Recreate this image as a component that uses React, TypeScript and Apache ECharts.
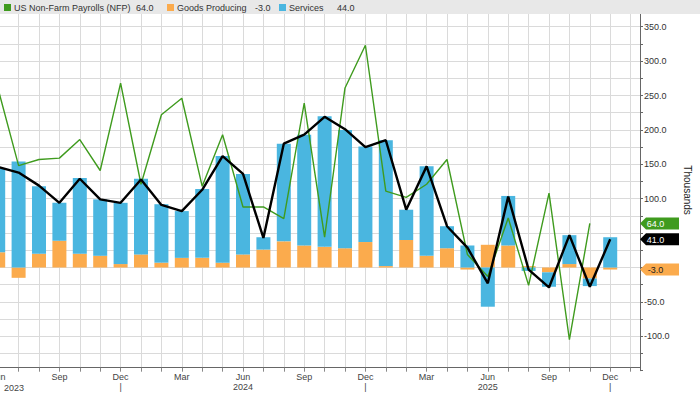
import React, { useEffect, useRef } from 'react';
import * as echarts from 'echarts';

// ---- data (thousands) ----
const months = [
  'Jun 2023', 'Jul 2023', 'Aug 2023', 'Sep 2023', 'Oct 2023', 'Nov 2023', 'Dec 2023',
  'Jan 2024', 'Feb 2024', 'Mar 2024', 'Apr 2024', 'May 2024', 'Jun 2024', 'Jul 2024',
  'Aug 2024', 'Sep 2024', 'Oct 2024', 'Nov 2024', 'Dec 2024', 'Jan 2025', 'Feb 2025',
  'Mar 2025', 'Apr 2025', 'May 2025', 'Jun 2025', 'Jul 2025', 'Aug 2025', 'Sep 2025',
  'Oct 2025', 'Nov 2025', 'Dec 2025',
];
const goodsProducing = [22, -15, 20, 39, 20, 17, 5, 19, 7, 14, 14, 7, 19, 26, 38, 32, 30, 28, 37, 2, 40, 17, 28, -3, 33, 32, 2, -7, 5, -16, -3];
const services = [122, 154, 98, 55, 110, 82, 89, 110, 85, 68, 100, 155, 117, 18, 142, 161, 190, 172, 139, 183, 44, 130, 32, 32, -57, 72, -5, -21, 42, -11, 44];
const privateTotal = [146, 138, 119, 94, 129, 99, 94, 128, 91, 82, 113, 162, 136, 43, 180, 193, 219, 201, 175, 185, 84, 147, 60, 29, -23, 103, -3, -29, 47, -28, 41];
const nfp = [259, 148, 157, 159, 186, 141, 268, 121, 222, 246, 118, 193, 88, 88, 71, 239, 44, 261, 323, 111, 102, 121, 157, 19, -13, 72, -26, 108, -105, 64];

const NFP_NAME = 'US Non-Farm Payrolls (NFP)';
const GOODS_NAME = 'Goods Producing';
const SERV_NAME = 'Services';

const BLUE = '#4ab6e0';
const ORANGE = '#fbab4d';
const GREEN = '#3f9b1e';
const BLACK = '#000000';
const GRID = '#dadada';
const FONT = '"Liberation Sans", Arial, sans-serif';
const X_MAX = 31.46;
const BAR_W = 14;

const pairs = (arr: number[]) => arr.map((v, i) => [i, v]);
const last = (arr: number[]) => arr[arr.length - 1];

// stacked segments (same-sign stacking: services sits on goods when both share a sign)
const goodsSegments = goodsProducing.map((g, i) => [i, 0, g]);
const servicesSegments = services.map((s, i) => {
  const g = goodsProducing[i];
  const base = Math.sign(g) === Math.sign(s) ? g : 0;
  return [i, base, base + s];
});

const barRenderer = (color: string) => (params: any, api: any) => {
  const i = api.value(0);
  const p0 = api.coord([i, api.value(1)]);
  const p1 = api.coord([i, api.value(2)]);
  const rect = echarts.graphic.clipRectByRect(
    { x: p0[0] - BAR_W / 2, y: Math.min(p0[1], p1[1]), width: BAR_W, height: Math.abs(p1[1] - p0[1]) },
    params.coordSys as any,
  );
  return rect ? { type: 'rect', shape: rect, style: { fill: color } } : null;
};

function tagItem(value: number, color: string, textColor: string) {
  return {
    coord: [X_MAX, value],
    value,
    itemStyle: { color },
    label: { color: textColor },
  };
}

export default function App() {
  const ref = useRef<HTMLDivElement>(null);
  useEffect(() => {
    document.body.style.margin = '0';
    const chart = echarts.init(ref.current as HTMLDivElement, null, { renderer: 'svg' });

    const xLabel = (v: number) => {
      const i = Math.round(v);
      if (Math.abs(v - i) > 1e-6 || i < 0 || i >= months.length) return '';
      const [m, y] = months[i].split(' ');
      if (m === 'Jun') return i === 0 ? m : `${m}\n${y}`;
      if (m === 'Dec') return `${m}\n|`;
      if (m === 'Sep' || m === 'Mar') return m;
      return '';
    };
    const yLabel = (v: number) =>
      v % 50 === 0 && v !== 0 && v !== 50 && v <= 350 && v >= -100 ? v.toFixed(1) : '';

    const legendItems = [
      { x: 4, color: GREEN, name: NFP_NAME, valX: 136, val: last(nfp) },
      { x: 167, color: ORANGE, name: GOODS_NAME, valX: 255, val: last(goodsProducing) },
      { x: 279, color: BLUE, name: SERV_NAME, valX: 337, val: last(services) },
    ];
    const legendGraphics: any[] = [];
    legendItems.forEach((it) => {
      legendGraphics.push({ type: 'rect', z: 101, shape: { x: it.x, y: 4, width: 7, height: 7 }, style: { fill: it.color } });
      legendGraphics.push({
        type: 'text', z: 101, x: it.x + 10, y: 8,
        style: { text: it.name, fill: '#333', font: `9px ${FONT}`, verticalAlign: 'middle' },
      });
      legendGraphics.push({
        type: 'text', z: 101, x: it.valX, y: 8,
        style: { text: it.val.toFixed(1), fill: '#333', font: `9px ${FONT}`, verticalAlign: 'middle' },
      });
    });

    chart.setOption({
      animation: false,
      backgroundColor: '#ffffff',
      grid: { left: -1.8, right: 60, top: 9.5, height: 361.2, containLabel: false, outerBoundsMode: 'none' },
      xAxis: {
        type: 'value',
        min: 0,
        max: X_MAX,
        interval: 1,
        offset: -3,
        axisLine: { show: true, onZero: false, lineStyle: { color: '#666', width: 1 } },
        axisTick: { show: true, length: 4, lineStyle: { color: '#888' } },
        axisLabel: {
          formatter: xLabel,
          color: '#444',
          fontSize: 9,
          fontFamily: FONT,
          lineHeight: 10.5,
          margin: 4,
          showMinLabel: true,
          showMaxLabel: false,
        },
        splitLine: { show: true, showMaxLine: false, lineStyle: { color: GRID, width: 1 } },
      },
      yAxis: {
        type: 'value',
        position: 'right',
        min: -150,
        max: 375,
        interval: 25,
        axisLine: { show: true, onZero: false, lineStyle: { color: '#666', width: 1 } },
        axisTick: { show: true, length: 3, lineStyle: { color: '#666' } },
        axisLabel: { formatter: yLabel, color: '#333', fontSize: 9, fontFamily: FONT, margin: 4 },
        splitLine: { show: true, showMinLine: false, lineStyle: { color: GRID, width: 1 } },
        name: 'Thousands',
        nameLocation: 'middle',
        nameRotate: -90,
        nameGap: 42,
        nameTextStyle: { color: '#222', fontSize: 10, fontFamily: FONT },
      },
      series: [
        {
          name: GOODS_NAME,
          type: 'custom',
          renderItem: barRenderer(ORANGE),
          encode: { x: 0, y: [1, 2] },
          data: goodsSegments,
          z: 2,
        },
        {
          name: SERV_NAME,
          type: 'custom',
          renderItem: barRenderer(BLUE),
          encode: { x: 0, y: [1, 2] },
          data: servicesSegments,
          z: 2,
        },
        {
          name: NFP_NAME,
          type: 'line',
          showSymbol: false,
          symbol: 'none',
          lineStyle: { color: GREEN, width: 1.4 },
          itemStyle: { color: GREEN },
          data: pairs(nfp),
          z: 3,
        },
        {
          name: 'Private Total',
          type: 'line',
          showSymbol: false,
          symbol: 'none',
          lineStyle: { color: BLACK, width: 2.4 },
          itemStyle: { color: BLACK },
          data: pairs(privateTotal),
          z: 4,
          markPoint: {
            silent: true,
            symbol: 'path://M0,6L6,0L39,0L39,12L6,12Z',
            symbolSize: [39, 12],
            symbolOffset: [19.5, 0],
            symbolKeepAspect: false,
            label: {
              show: true,
              position: 'inside',
              offset: [-4, 0.5],
              fontSize: 9,
              fontFamily: FONT,
              formatter: (p: any) => Number(p.value).toFixed(1),
            },
            data: [
              tagItem(last(nfp), GREEN, '#ffffff'),
              tagItem(last(privateTotal), BLACK, '#ffffff'),
              tagItem(last(goodsProducing), ORANGE, '#222222'),
            ],
          },
        },
      ],
      graphic: [
        { type: 'rect', z: 100, shape: { x: 0, y: 0, width: 700, height: 14 }, style: { fill: '#e8e8e8' } },
        ...legendGraphics,
        {
          type: 'text', z: 100, x: 14, y: 387.5,
          style: { text: months[0].split(' ')[1], fill: '#444', font: `9px ${FONT}`, align: 'center', verticalAlign: 'middle' },
        },
      ],
    });

    return () => chart.dispose();
  }, []);

  return <div ref={ref} style={{ position: 'absolute', left: 0, top: 0, width: 700, height: 394 }} />;
}
